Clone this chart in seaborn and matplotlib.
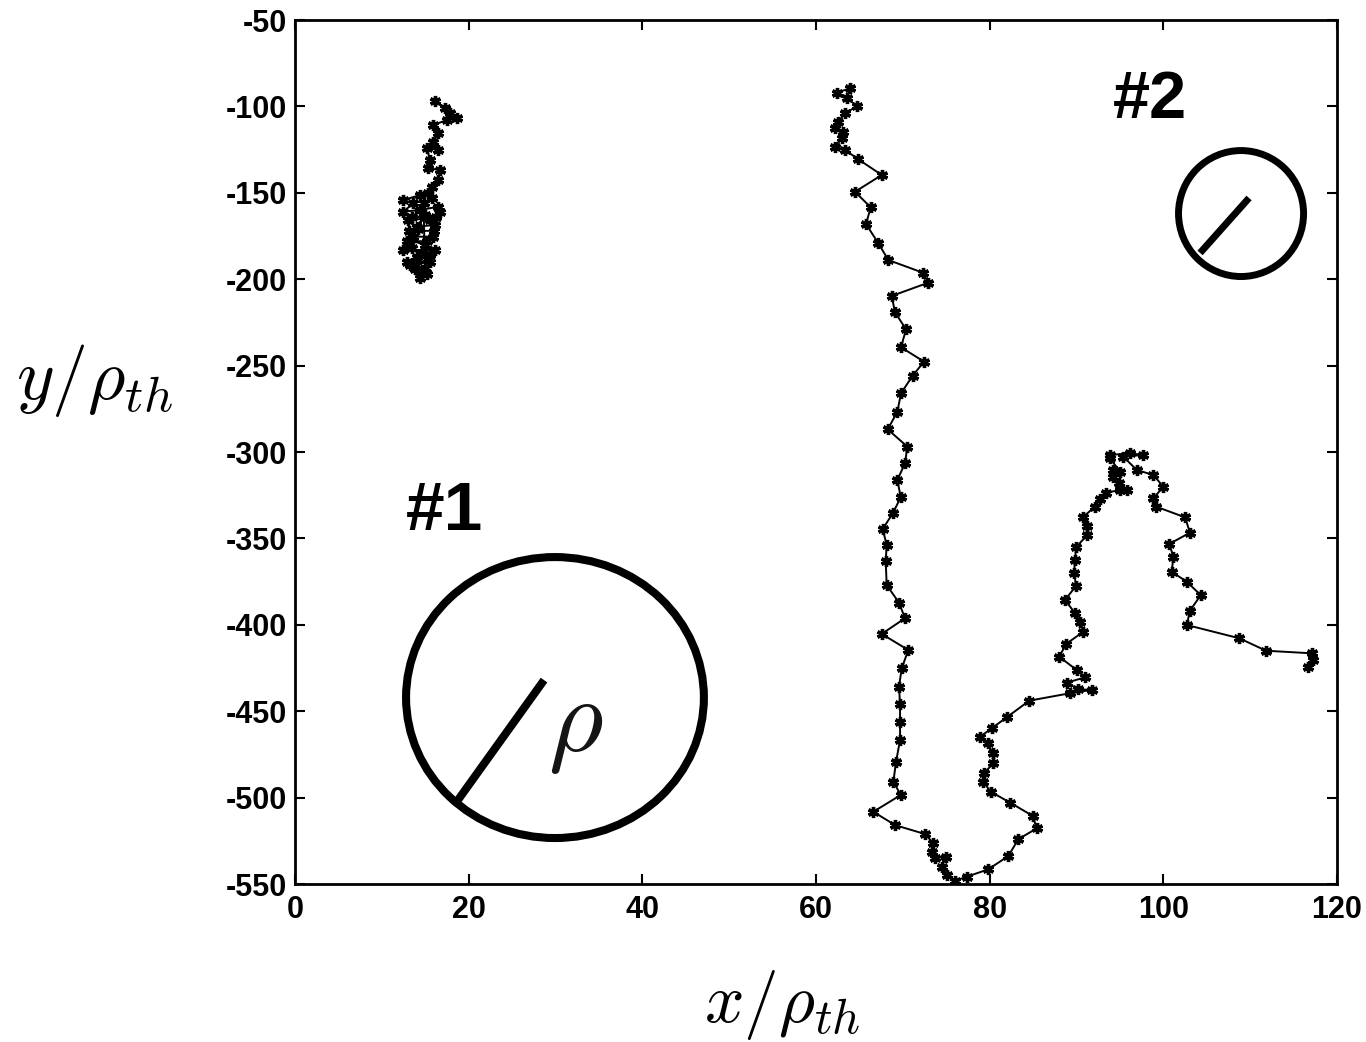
import matplotlib
matplotlib.use('Agg')
import matplotlib.pyplot as plt
import seaborn as sns
from matplotlib.patches import Ellipse

# trajectory #1 (small, confined)
traj1_x = [16.12, 17.28, 17.85, 18.62, 17.47, 15.93, 16.50, 15.93, 16.50, 15.17,
           15.55, 15.35, 16.70, 16.50, 15.74, 15.35, 14.40, 12.47, 13.62, 12.47,
           14.40, 16.50, 16.70, 15.55, 16.12, 14.02, 14.97, 13.62, 15.93, 14.97,
           13.24, 12.47, 16.12, 14.02, 12.86, 15.55, 13.24, 14.97, 14.80, 15.80,
           13.50, 16.20, 13.00, 14.20, 13.10, 16.00, 15.20, 12.90, 13.50, 14.60,
           15.60, 13.80, 15.20, 14.40, 14.40]
traj1_y = [-96.7, -101.1, -104.0, -106.9, -107.9, -110.8, -115.6, -120.4, -125.2, -124.2,
           -131.0, -135.8, -136.8, -142.6, -146.5, -150.3, -151.3, -154.2, -156.1, -160.9,
           -160.0, -158.0, -160.9, -165.7, -168.6, -169.6, -162.8, -175.4, -175.4, -180.2,
           -177.3, -183.1, -183.1, -187.0, -189.9, -189.9, -191.8, -193.5, -156.0, -153.0,
           -164.0, -164.0, -166.0, -171.0, -172.0, -172.0, -178.0, -178.0, -182.0, -185.0,
           -186.0, -194.0, -197.0, -195.7, -199.5]

# trajectory #2 (long excursion)
traj2_x = [62.39, 63.92, 63.54, 64.76, 63.34, 62.57, 62.19, 63.15, 62.96, 62.19,
           63.34, 64.87, 67.57, 64.49, 66.30, 65.76, 67.18, 68.33, 72.29, 72.94,
           68.72, 69.10, 70.37, 69.79, 72.44, 71.14, 69.79, 69.37, 68.26, 70.52,
           70.25, 69.37, 69.76, 68.84, 67.68, 68.14, 68.03, 68.14, 69.56, 70.25,
           67.57, 70.63, 69.87, 69.56, 69.68, 69.68, 69.68, 69.22, 68.91, 69.76,
           66.60, 69.10, 72.56, 73.51, 73.33, 73.71, 74.97, 74.48, 75.06, 76.01,
           77.36, 79.85, 82.15, 83.30, 85.42, 84.96, 82.35, 80.12, 79.27, 79.35,
           80.42, 80.35, 79.78, 78.89, 80.24, 81.97, 84.57, 89.26, 91.75, 90.21,
           88.88, 90.98, 90.03, 88.02, 88.80, 90.79, 90.41, 89.83, 88.68, 89.95,
           89.72, 89.83, 89.95, 91.25, 91.25, 90.72, 92.13, 92.71, 93.40, 95.01,
           95.79, 94.93, 94.24, 94.24, 95.01, 93.86, 93.86, 96.17, 97.70, 95.39,
           96.94, 98.85, 100.00, 98.85, 99.16, 102.50, 103.07, 100.69, 101.15, 100.97,
           102.70, 104.31, 103.07, 102.70, 108.75, 111.83, 117.09, 117.28, 116.70]
traj2_y = [-92.1, -89.5, -95.3, -99.8, -104.0, -108.9, -112.7, -114.6, -118.5, -123.3,
           -125.2, -130.6, -139.7, -149.4, -158.4, -168.1, -179.2, -188.9, -196.2, -202.0,
           -209.7, -219.2, -229.0, -239.4, -247.7, -255.8, -266.0, -276.7, -286.9, -296.9,
           -306.5, -316.2, -326.2, -335.5, -344.6, -353.8, -363.1, -377.0, -387.2, -396.2,
           -405.3, -414.6, -425.2, -435.8, -446.0, -456.4, -466.7, -479.2, -490.8, -498.5,
           -508.2, -515.9, -521.1, -526.4, -531.3, -535.1, -534.2, -540.0, -544.8, -548.1,
           -545.8, -541.5, -533.8, -524.1, -517.8, -510.6, -502.9, -496.6, -490.8, -485.9,
           -480.1, -474.4, -468.6, -464.8, -459.9, -453.5, -443.9, -439.6, -437.7, -437.3,
           -433.5, -430.4, -426.2, -418.5, -411.1, -404.0, -398.2, -393.3, -385.6, -377.5,
           -369.8, -362.5, -355.1, -348.0, -342.8, -337.8, -331.6, -327.4, -323.6, -322.0,
           -322.0, -318.1, -314.3, -310.4, -311.4, -303.6, -301.7, -300.8, -301.7, -302.7,
           -310.4, -313.3, -320.1, -326.8, -331.6, -337.8, -346.7, -353.2, -360.6, -369.3,
           -375.1, -382.8, -391.8, -400.1, -407.8, -415.0, -416.5, -420.4, -424.2]

x_ticks = [0, 20, 40, 60, 80, 100, 120]
y_ticks = [-550, -500, -450, -400, -350, -300, -250, -200, -150, -100, -50]

sns.set_style('ticks')
plt.rcParams['font.family'] = ['Liberation Sans', 'DejaVu Sans']
plt.rcParams['mathtext.fontset'] = 'cm'
plt.rcParams['text.color'] = 'black'
plt.rcParams['axes.labelcolor'] = 'black'
plt.rcParams['xtick.color'] = 'black'
plt.rcParams['ytick.color'] = 'black'

fig = plt.figure(figsize=(13.66, 10.42), dpi=100)
ax = fig.add_axes([0.21596, 0.15163, 0.76281, 0.82917])

star = (6, 2, 0)
for xs, ys in [(traj1_x, traj1_y), (traj2_x, traj2_y)]:
    sns.lineplot(x=xs, y=ys, sort=False, estimator=None, ax=ax, color='black',
                 linewidth=1.4, marker=star, markersize=8, markeredgewidth=2.4,
                 markeredgecolor='black', legend=False)

# particle sketches with their gyro radius
ax.add_patch(Ellipse((29.94, -442.1), 34.3, 162.6, fill=False, lw=5.8, ec='black'))
ax.plot([18.77, 28.68], [-501.4, -432.0], color='black', lw=5.8, solid_capstyle='butt')
ax.text(32.3, -459, r'$\rho$', fontsize=76, color='#151515', ha='center', va='center')
ax.add_patch(Ellipse((108.95, -162.0), 14.4, 72.9, fill=False, lw=5.0, ec='black'))
ax.plot([104.23, 109.87], [-184.8, -153.0], color='black', lw=5.0, solid_capstyle='butt')

ax.text(17.2, -335, '#1', fontsize=50, fontweight='bold', ha='center', va='center')
ax.text(98.5, -97, '#2', fontsize=48, fontweight='bold', ha='center', va='center')

ax.set_xlim(0, 120)
ax.set_ylim(-550, -50)
ax.set_xticks(x_ticks)
ax.set_yticks(y_ticks)
ax.set_xticklabels([str(v) for v in x_ticks], fontsize=22, fontweight='bold')
ax.set_yticklabels([str(v) for v in y_ticks], fontsize=22, fontweight='bold')
ax.tick_params(direction='in', length=7, width=1.5, top=True, right=True, pad=6)
ax.tick_params(axis='x', pad=8)
for s in ax.spines.values():
    s.set_visible(True)
    s.set_linewidth(2)
    s.set_color('black')

ax.set_xlabel(r'$x/\rho_{th}$', fontsize=50)
ax.set_ylabel(r'$y/\rho_{th}$', fontsize=52, rotation=0)
ax.xaxis.set_label_coords(0.468, -0.14)
ax.yaxis.set_label_coords(-0.192, 0.583)
ax.xaxis.label.set_va('center')
ax.yaxis.label.set_va('center')
ax.yaxis.label.set_ha('center')

fig.savefig('out.png', dpi=100, facecolor='white')
